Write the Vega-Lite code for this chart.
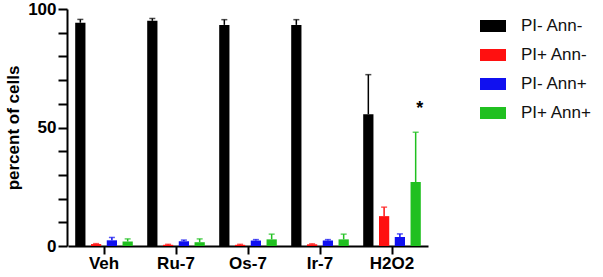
{
  "$schema": "https://vega.github.io/schema/vega-lite/v6.json",
  "autosize": "none",
  "width": 360,
  "height": 237,
  "padding": {"left": 68, "top": 9, "right": 175, "bottom": 31},
  "config": {
    "view": {"stroke": null},
    "font": "Liberation Sans",
    "axis": {
      "domainColor": "black", "domainWidth": 2, "tickColor": "black",
      "tickWidth": 2, "labelColor": "#000", "labelFontWeight": "bold",
      "labelFontSize": 17, "labelFont": "Liberation Sans",
      "titleFont": "Liberation Sans", "titleFontWeight": "bold",
      "titleFontSize": 17, "titleColor": "#000", "grid": false
    },
    "axisY": {
      "domain": true, "ticks": true, "domainColor": "black", "tickColor": "black",
      "domainOpacity": 1, "tickOpacity": 1, "domainWidth": 2, "tickWidth": 2
    }
  },
  "data": {
    "values": [
      {"cond": "Veh", "grp": "PI- Ann-", "v": 94.2, "up": 95.6},
      {"cond": "Veh", "grp": "PI+ Ann-", "v": 0.8, "up": 1.0},
      {"cond": "Veh", "grp": "PI- Ann+", "v": 2.4, "up": 3.6},
      {"cond": "Veh", "grp": "PI+ Ann+", "v": 1.9, "up": 3.0},
      {"cond": "Ru-7", "grp": "PI- Ann-", "v": 95.0, "up": 96.0},
      {"cond": "Ru-7", "grp": "PI+ Ann-", "v": 0.5, "up": 0.7},
      {"cond": "Ru-7", "grp": "PI- Ann+", "v": 2.0, "up": 2.5},
      {"cond": "Ru-7", "grp": "PI+ Ann+", "v": 1.6, "up": 3.0},
      {"cond": "Os-7", "grp": "PI- Ann-", "v": 93.3, "up": 95.5},
      {"cond": "Os-7", "grp": "PI+ Ann-", "v": 0.5, "up": 0.7},
      {"cond": "Os-7", "grp": "PI- Ann+", "v": 2.3, "up": 2.7},
      {"cond": "Os-7", "grp": "PI+ Ann+", "v": 2.8, "up": 5.0},
      {"cond": "Ir-7", "grp": "PI- Ann-", "v": 93.3, "up": 95.5},
      {"cond": "Ir-7", "grp": "PI+ Ann-", "v": 0.7, "up": 0.9},
      {"cond": "Ir-7", "grp": "PI- Ann+", "v": 2.3, "up": 2.7},
      {"cond": "Ir-7", "grp": "PI+ Ann+", "v": 2.8, "up": 5.0},
      {"cond": "H2O2", "grp": "PI- Ann-", "v": 55.6, "up": 72.3},
      {"cond": "H2O2", "grp": "PI+ Ann-", "v": 12.6, "up": 16.4},
      {"cond": "H2O2", "grp": "PI- Ann+", "v": 3.8, "up": 5.1},
      {"cond": "H2O2", "grp": "PI+ Ann+", "v": 27.0, "up": 48.0}
    ]
  },
  "encoding": {
    "x": {
      "field": "cond", "type": "nominal",
      "sort": ["Veh", "Ru-7", "Os-7", "Ir-7", "H2O2"],
      "scale": {"paddingInner": 0.2, "paddingOuter": 0.1},
      "axis": {"title": null, "labelAngle": 0, "tickSize": 8, "labelPadding": 1}
    },
    "xOffset": {
      "field": "grp", "type": "nominal",
      "sort": ["PI- Ann-", "PI+ Ann-", "PI- Ann+", "PI+ Ann+"],
      "scale": {"paddingInner": 0.35, "paddingOuter": 0}
    },
    "y": {
      "field": "v", "type": "quantitative",
      "scale": {"domain": [0, 100], "nice": false},
      "axis": {
        "title": "percent of cells", "titlePadding": 5,
        "tickCount": 10, "zindex": 2, "orient": "left", "offset": 1,
        "labelExpr": "datum.value % 50 == 0 ? datum.label : ''",
        "labelOverlap": false, "labelPadding": 2, "tickSize": 9
      }
    },
    "color": {
      "field": "grp", "type": "nominal",
      "scale": {
        "domain": ["PI- Ann-", "PI+ Ann-", "PI- Ann+", "PI+ Ann+"],
        "range": ["#000000", "#ff1010", "#1010f0", "#20c020"]
      },
      "legend": {
        "title": null, "orient": "none", "legendX": 412, "legendY": 4,
        "padding": 0,
        "symbolType": "M-1,-0.46H1V0.46H-1Z", "symbolSize": 676,
        "symbolStrokeWidth": 0, "symbolOpacity": 1,
        "labelFont": "Liberation Sans", "labelFontSize": 17, "labelColor": "#111",
        "labelFontWeight": "normal",
        "labelOffset": 15, "rowPadding": 8
      }
    }
  },
  "layer": [
    {
      "mark": {"type": "bar", "opacity": 1}
    },
    {
      "mark": {"type": "rule", "strokeWidth": 1.5},
      "encoding": {
        "y2": {"field": "up"}
      }
    },
    {
      "mark": {"type": "tick", "orient": "horizontal", "size": 6, "thickness": 1.5},
      "encoding": {
        "y": {"field": "up", "type": "quantitative"}
      }
    },
    {
      "data": {"values": [{"cond": "H2O2", "grp": "PI+ Ann+", "v": 58, "lab": "*"}]},
      "mark": {"type": "text", "fontSize": 18, "fontWeight": "bold", "color": "#000", "dx": 4, "baseline": "middle"},
      "encoding": {
        "text": {"field": "lab"},
        "color": {"value": "#000"}
      }
    }
  ]
}
